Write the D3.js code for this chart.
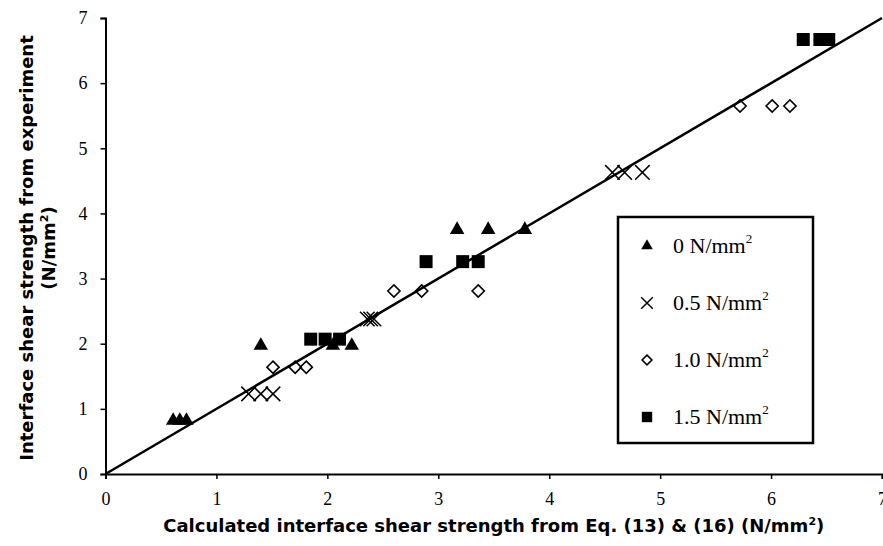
<!DOCTYPE html>
<html>
<head>
<meta charset="utf-8">
<script src="https://cdn.jsdelivr.net/npm/d3@7"></script>
<style>
  body { margin: 0; background: #fff; }
  .tick text { font-family: "Liberation Serif", serif; font-size: 18px; fill: #000; }
  .axTitle { font-family: "DejaVu Sans", sans-serif; font-weight: bold; font-size: 18px; fill: #000; }
  .legText { font-family: "Liberation Serif", serif; font-size: 22px; fill: #000; }
</style>
</head>
<body>
<div id="chart"></div>
<script>
// series: normal stress levels
var seriesNames = ["0", "0.5", "1.0", "1.5"];

// calculated (x) vs experimental (y) interface shear strength, N/mm2
var calc00 = [0.61, 0.67, 0.73, 1.40, 2.05, 2.22, 3.17, 3.45, 3.78];
var exp00  = [0.82, 0.82, 0.82, 1.97, 1.97, 1.97, 3.75, 3.75, 3.75];

var calc05 = [1.29, 1.40, 1.51, 2.36, 2.39, 2.42, 4.57, 4.68, 4.84];
var exp05  = [1.23, 1.23, 1.23, 2.38, 2.38, 2.38, 4.63, 4.63, 4.63];

var calc10 = [1.51, 1.71, 1.81, 2.60, 2.85, 3.36, 5.72, 6.01, 6.17];
var exp10  = [1.64, 1.64, 1.64, 2.81, 2.81, 2.81, 5.65, 5.65, 5.65];

var calc15 = [1.85, 1.98, 2.11, 2.89, 3.22, 3.36, 6.29, 6.44, 6.52];
var exp15  = [2.07, 2.07, 2.07, 3.26, 3.26, 3.26, 6.67, 6.67, 6.67];

// line of equality
var lineX = [0, 7];
var lineY = [0, 7];

var xTicks = [0, 1, 2, 3, 4, 5, 6, 7];
var yTicks = [0, 1, 2, 3, 4, 5, 6, 7];

var width = 883, height = 546;
var margin = {top: 18, right: 1, bottom: 72, left: 105.5};

var svg = d3.select("#chart").append("svg")
    .attr("width", width)
    .attr("height", height);

var x = d3.scaleLinear().domain([0, 7]).range([margin.left, width - margin.right]);
var y = d3.scaleLinear().domain([0, 7]).range([height - margin.bottom, margin.top]);

// axes
var xAxis = svg.append("g")
    .attr("transform", "translate(0," + y(0) + ")")
    .call(d3.axisBottom(x).tickValues(xTicks).tickFormat(d3.format("d")).tickSize(5).tickPadding(13));
var yAxis = svg.append("g")
    .attr("transform", "translate(" + x(0) + ",0)")
    .call(d3.axisLeft(y).tickValues(yTicks).tickFormat(d3.format("d")).tickSize(5).tickPadding(13));

[xAxis, yAxis].forEach(function(a){
  a.select(".domain").attr("stroke", "#000").attr("stroke-width", 2);
  a.selectAll(".tick line").attr("stroke", "#000").attr("stroke-width", 1.5);
});

// markers
var sym = {
  tri: d3.symbol().type(d3.symbolTriangle2),
  sq: d3.symbol().type(d3.symbolSquare2),
  dia: d3.symbol().type(d3.symbolDiamond2),
  cross: d3.symbol().type(d3.symbolTimes)
};

function drawMarker(sel, kind, big) {
  var s = big ? 1 : 0.8;
  if (kind === "tri") {
    sel.append("path").attr("d", sym.tri.size(150 * s * s)()).attr("fill", "#000");
  } else if (kind === "sq") {
    sel.append("path").attr("d", sym.sq.size(215 * s * s)()).attr("fill", "#000");
  } else if (kind === "dia") {
    sel.append("path").attr("d", sym.dia.size(95 * s * s)()).attr("fill", "none")
      .attr("stroke", "#000").attr("stroke-width", 1.6);
  } else {
    sel.append("path").attr("d", sym.cross.size(140 * s * s)()).attr("fill", "none")
      .attr("stroke", "#000").attr("stroke-width", 1.5);
  }
}

var series = [
  {kind: "tri", xs: calc00, ys: exp00},
  {kind: "cross", xs: calc05, ys: exp05},
  {kind: "dia", xs: calc10, ys: exp10},
  {kind: "sq", xs: calc15, ys: exp15}
];

series.forEach(function(s){
  s.xs.forEach(function(v, i){
    var g = svg.append("g").attr("transform", "translate(" + x(v) + "," + y(s.ys[i]) + ")");
    drawMarker(g, s.kind, true);
  });
});

// 1:1 line
svg.append("path")
    .datum(d3.zip(lineX, lineY))
    .attr("fill", "none")
    .attr("stroke", "#000")
    .attr("stroke-width", 2.5)
    .attr("d", d3.line().x(function(d){ return x(d[0]); }).y(function(d){ return y(d[1]); }));

// legend
var leg = svg.append("g");
leg.append("rect")
    .attr("x", 618).attr("y", 217)
    .attr("width", 195).attr("height", 226)
    .attr("fill", "#fff").attr("stroke", "#000").attr("stroke-width", 2.5);

series.forEach(function(s, i){
  var ly = 246 + i * 57;
  var g = leg.append("g").attr("transform", "translate(647," + ly + ")");
  drawMarker(g, s.kind, false);
  var t = leg.append("text").attr("class", "legText")
      .attr("x", 673).attr("y", ly + 7);
  t.append("tspan").text(seriesNames[i] + " N/mm");
  t.append("tspan").attr("dy", -10).attr("font-size", 13).text("2");
});

// axis titles
var xt = svg.append("text").attr("class", "axTitle")
    .attr("x", (x(0) + x(7)) / 2).attr("y", 532)
    .attr("text-anchor", "middle");
xt.append("tspan").text("Calculated interface shear strength from Eq. (13) & (16) (N/mm");
xt.append("tspan").attr("dy", -7).attr("font-size", 11).text("2");
xt.append("tspan").attr("dy", 7).text(")");

var yt = svg.append("text").attr("class", "axTitle")
    .attr("transform", "translate(33," + ((y(0) + y(7)) / 2 + 2) + ") rotate(-90)")
    .attr("text-anchor", "middle");
yt.append("tspan").attr("x", 0).attr("y", 0).text("Interface shear strength from experiment");
yt.append("tspan").attr("x", 0).attr("y", 22).text("(N/mm");
yt.append("tspan").attr("dy", -7).attr("font-size", 11).text("2");
yt.append("tspan").attr("dy", 7).text(")");
</script>
</body>
</html>
